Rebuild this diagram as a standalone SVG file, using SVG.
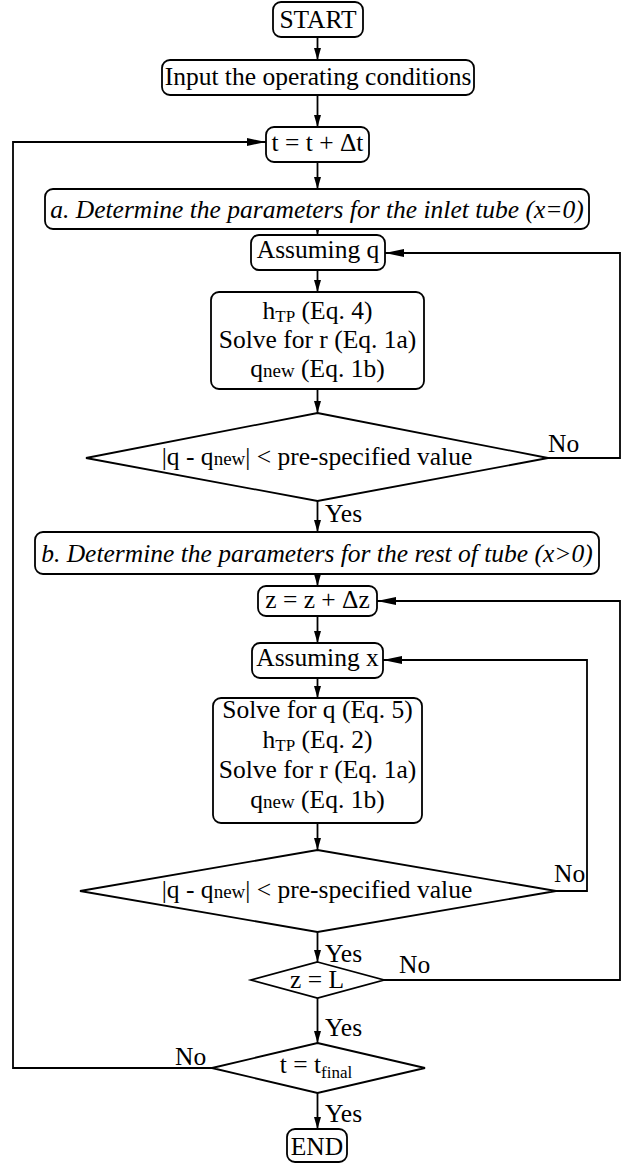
<svg xmlns="http://www.w3.org/2000/svg" width="624" height="1164" viewBox="0 0 624 1164">
<style>
.box{fill:#fff;stroke:#000;stroke-width:1.8}
.ln{fill:none;stroke:#000;stroke-width:1.8}
text{font-family:"Liberation Serif","Times New Roman",serif;font-size:25.5px;fill:#000}
.c{text-anchor:middle}
.it{font-style:italic}
.sub{font-size:17px}
.sm{font-size:19px}
</style>
<defs>
<marker id="av" markerUnits="userSpaceOnUse" markerWidth="12" markerHeight="7" refX="12" refY="3.5" orient="auto"><path d="M0,0 L12,3.5 L0,7 z" fill="#000"/></marker>
<marker id="ah" markerUnits="userSpaceOnUse" markerWidth="19" markerHeight="8" refX="19" refY="4" orient="auto"><path d="M0,0 L19,4 L0,8 z" fill="#000"/></marker>
</defs>
<g id="connectors">
<path class="ln" d="M317.5,37 V60" marker-end="url(#av)"/>
<path class="ln" d="M317.5,95 V127" marker-end="url(#av)"/>
<path class="ln" d="M317.5,162 V189" marker-end="url(#av)"/>
<path class="ln" d="M317.5,229 V235" marker-end="url(#av)"/>
<path class="ln" d="M317.5,270 V292" marker-end="url(#av)"/>
<path class="ln" d="M317.5,389 V413" marker-end="url(#av)"/>
<path class="ln" d="M317.5,501 V532" marker-end="url(#av)"/>
<path class="ln" d="M548,458 H620 V253 H385" marker-end="url(#ah)"/>
<path class="ln" d="M317.5,574 V586" marker-end="url(#av)"/>
<path class="ln" d="M317.5,616 V643" marker-end="url(#av)"/>
<path class="ln" d="M317.5,678 V698" marker-end="url(#av)"/>
<path class="ln" d="M317.5,823 V850" marker-end="url(#av)"/>
<path class="ln" d="M556,891 H587 V660 H383" marker-end="url(#ah)"/>
<path class="ln" d="M317.5,932 V962" marker-end="url(#av)"/>
<path class="ln" d="M384,980 H620 V601 H377" marker-end="url(#ah)"/>
<path class="ln" d="M317.5,998 V1043" marker-end="url(#av)"/>
<path class="ln" d="M212,1068 H13 V142 H266" marker-end="url(#ah)"/>
<path class="ln" d="M317.5,1093 V1129" marker-end="url(#av)"/>
<text x="325" y="522">Yes</text>
<text x="548" y="452">No</text>
<text x="554" y="882">No</text>
<text x="325" y="962">Yes</text>
<text x="399" y="973">No</text>
<text x="325" y="1036">Yes</text>
<text x="175" y="1065">No</text>
<text x="325" y="1122">Yes</text>
</g>
<g id="start"><rect class="box" x="273" y="2" width="90" height="35" rx="8"/><text class="c" x="318" y="28">START</text></g>
<g id="input"><rect class="box" x="162" y="60" width="312" height="35" rx="8"/><text class="c" x="318" y="85">Input the operating conditions</text></g>
<g id="time-step"><rect class="box" x="266" y="127" width="103" height="35" rx="8"/><text class="c" x="317.5" y="151">t = t + Δt</text></g>
<g id="inlet"><rect class="box" x="45" y="189" width="544" height="40" rx="8"/><text class="c it" x="317" y="218">a. Determine the parameters for the inlet tube (x=0)</text></g>
<g id="assume-q"><rect class="box" x="251" y="235" width="134" height="35" rx="8"/><text class="c" x="318" y="258">Assuming q</text></g>
<g id="solve-inlet"><rect class="box" x="211" y="292" width="213" height="97" rx="8"/>
<text class="c" x="317.5" y="319">h<tspan class="sub" dy="3">TP</tspan><tspan dy="-3"> (Eq. 4)</tspan></text>
<text class="c" x="317.5" y="348">Solve for r (Eq. 1a)</text>
<text class="c" x="317.5" y="377">q<tspan class="sm">new</tspan> (Eq. 1b)</text>
</g>
<g id="check-inlet"><polygon class="box" points="317.5,413 548,458 317.5,501 86,458"/><text class="c" x="317" y="465">|q - q<tspan class="sm">new</tspan>| &lt; pre-specified value</text></g>
<g id="rest"><rect class="box" x="35" y="532" width="564" height="42" rx="8"/><text class="c it" x="317" y="562">b. Determine the parameters for the rest of tube (x&gt;0)</text></g>
<g id="z-step"><rect class="box" x="258" y="586" width="119" height="30" rx="8"/><text class="c" x="317.5" y="608">z = z + Δz</text></g>
<g id="assume-x"><rect class="box" x="252" y="643" width="131" height="35" rx="8"/><text class="c" x="317.5" y="666">Assuming x</text></g>
<g id="solve-rest"><rect class="box" x="213" y="698" width="209" height="125" rx="8"/>
<text class="c" x="317.5" y="718">Solve for q (Eq. 5)</text>
<text class="c" x="317.5" y="748">h<tspan class="sub" dy="3">TP</tspan><tspan dy="-3"> (Eq. 2)</tspan></text>
<text class="c" x="317.5" y="778">Solve for r (Eq. 1a)</text>
<text class="c" x="317.5" y="808">q<tspan class="sm">new</tspan> (Eq. 1b)</text>
</g>
<g id="check-rest"><polygon class="box" points="317.5,850 556,891 317.5,932 80,891"/><text class="c" x="317" y="898">|q - q<tspan class="sm">new</tspan>| &lt; pre-specified value</text></g>
<g id="z-check"><polygon class="box" points="317.5,962 384,980 317.5,998 251,980"/><text class="c" x="317" y="988">z = L</text></g>
<g id="t-check"><polygon class="box" points="317.5,1043 425,1068 317.5,1093 212,1068"/><text class="c" x="316" y="1073">t = t<tspan class="sub" dy="5">final</tspan></text></g>
<g id="end"><rect class="box" x="287" y="1129" width="60" height="33" rx="8"/><text class="c" x="317" y="1155">END</text></g>
</svg>
